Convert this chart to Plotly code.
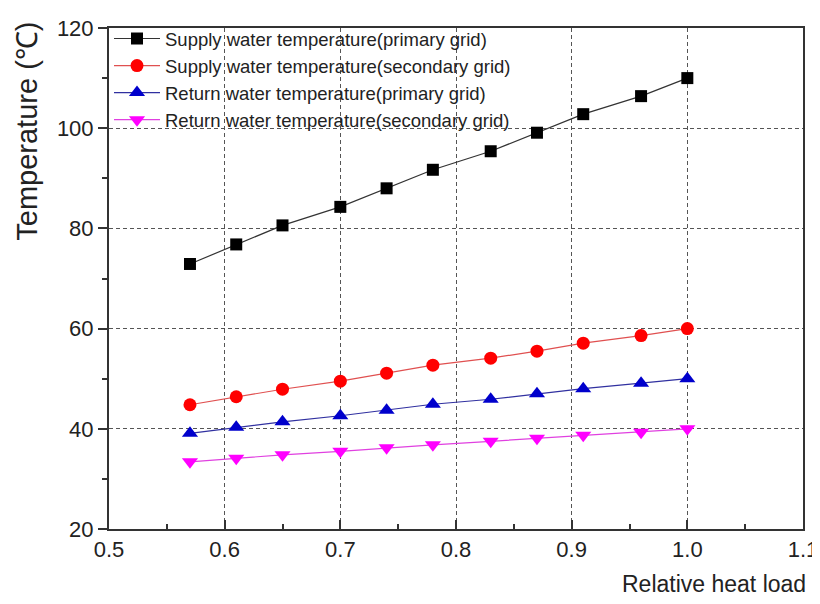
import plotly.graph_objects as go

# Data
relative_load = [0.57, 0.61, 0.65, 0.70, 0.74, 0.78, 0.83, 0.87, 0.91, 0.96, 1.00]
supply_primary = [72.9, 76.8, 80.6, 84.3, 88.0, 91.7, 95.4, 99.1, 102.8, 106.4, 110.0]
supply_secondary = [44.8, 46.4, 47.9, 49.5, 51.1, 52.7, 54.1, 55.5, 57.1, 58.6, 60.0]
return_primary = [39.1, 40.3, 41.4, 42.6, 43.7, 44.9, 45.9, 47.0, 48.0, 49.1, 50.0]
return_secondary = [33.4, 34.1, 34.8, 35.5, 36.2, 36.8, 37.5, 38.1, 38.7, 39.3, 40.0]

series_names = [
    "Supply water temperature(primary grid)",
    "Supply water temperature(secondary grid)",
    "Return water temperature(primary grid)",
    "Return water temperature(secondary grid)",
]
x_ticks = [0.5, 0.6, 0.7, 0.8, 0.9, 1.0, 1.1]
y_ticks = [20, 40, 60, 80, 100, 120]

FONT = "Liberation Sans, Arial, sans-serif"

styles = [
    dict(values=supply_primary, line="#333333", marker="#000000", symbol="square", size=12),
    dict(values=supply_secondary, line="#e05050", marker="#ff0000", symbol="circle", size=13),
    dict(values=return_primary, line="#3030a0", marker="#0000cc", symbol="triangle-up", size=14),
    dict(values=return_secondary, line="#e040e0", marker="#ff00ff", symbol="triangle-down", size=14),
]

fig = go.Figure()
for name, s in zip(series_names, styles):
    fig.add_trace(go.Scatter(
        x=relative_load, y=s["values"], name=name, mode="lines+markers",
        line=dict(color=s["line"], width=1.2),
        marker=dict(color=s["marker"], symbol=s["symbol"], size=s["size"],
                    line=dict(width=0)),
    ))

axis_common = dict(
    showline=True, linecolor="#333333", linewidth=2, mirror=True,
    showgrid=True, gridcolor="#555555", gridwidth=1, griddash="4px,3px",
    zeroline=False, tickcolor="#333333", tickwidth=1.5, automargin=False,
    tickfont=dict(family=FONT, size=22, color="#222222"),
)

fig.update_xaxes(
    range=[0.5, 1.1], tickvals=x_ticks, tickformat=".1f",
    ticks="inside", ticklen=9,
    minor=dict(dtick=0.05, ticks="inside", ticklen=5, tickcolor="#333333", showgrid=False),
    **axis_common,
)
fig.update_yaxes(
    range=[20, 120], tickvals=y_ticks,
    ticks="outside", ticklen=9,
    minor=dict(dtick=10, ticks="outside", ticklen=5, tickcolor="#333333", showgrid=False),
    **axis_common,
)

fig.add_annotation(
    text="Temperature (℃)", xref="paper", yref="paper", x=0, y=0.793,
    xanchor="center", yanchor="middle", xshift=-82, textangle=-90, showarrow=False,
    font=dict(family=FONT, size=29, color="#222222"),
)
fig.add_annotation(
    text="Relative heat load", xref="paper", yref="paper", x=1.0, y=0,
    xanchor="right", yanchor="middle", yshift=-55, xshift=5, showarrow=False,
    font=dict(family=FONT, size=23, color="#222222"),
)

# The page body has an 8px margin, so the figure is sized to fit the 820x604 window.
fig.update_layout(
    width=812, height=596,
    margin=dict(l=101, r=17, t=14, b=75),
    paper_bgcolor="white", plot_bgcolor="white",
    showlegend=True,
    legend=dict(x=0.0, y=1.016, xanchor="left", yanchor="top",
                bgcolor="rgba(255,255,255,0)", borderwidth=0,
                font=dict(family=FONT, size=18.5, color="#222222"),
                itemwidth=46, tracegroupgap=0),
)

fig.write_html("out.html")
